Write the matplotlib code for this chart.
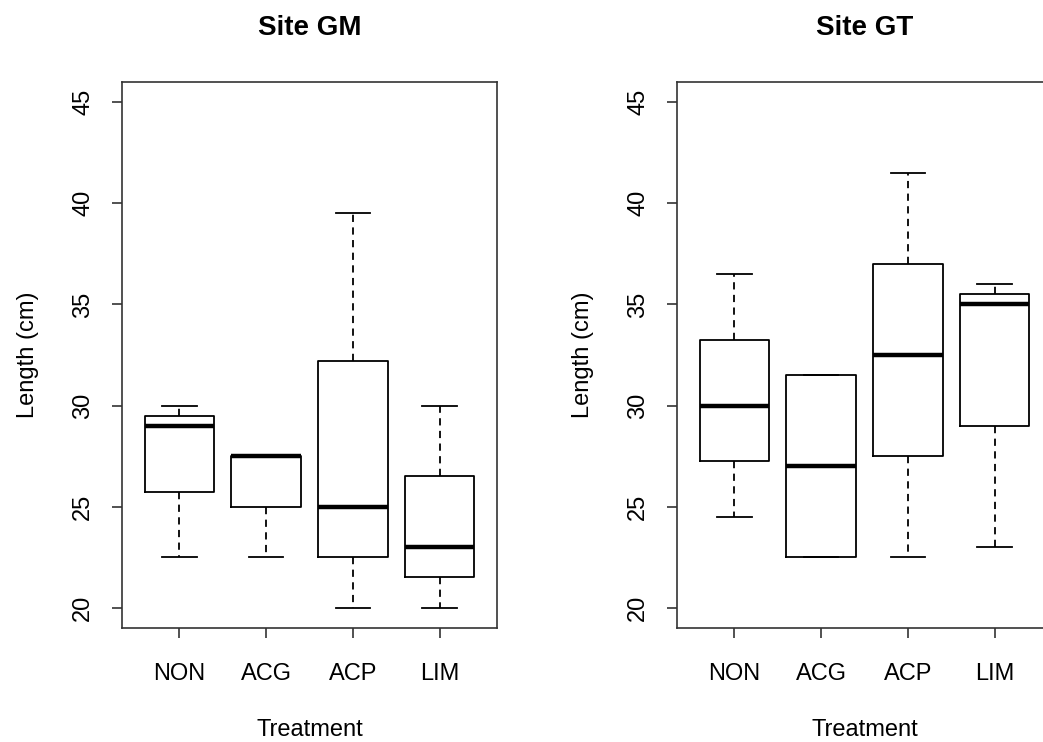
import matplotlib
matplotlib.use("Agg")
import matplotlib.pyplot as plt

plt.rcParams['font.family'] = ['Liberation Sans', 'DejaVu Sans']

treatments = ["NON", "ACG", "ACP", "LIM"]

# Site GM: whisker low, Q1, median, Q3, whisker high
gm_whislo = [22.5, 22.5, 20.0, 20.0]
gm_q1 = [25.75, 25.0, 22.5, 21.5]
gm_med = [29.0, 27.5, 25.0, 23.0]
gm_q3 = [29.5, 27.5, 32.2, 26.5]
gm_whishi = [30.0, 27.5, 39.5, 30.0]

# Site GT
gt_whislo = [24.5, 22.5, 22.5, 23.0]
gt_q1 = [27.25, 22.5, 27.5, 29.0]
gt_med = [30.0, 27.0, 32.5, 35.0]
gt_q3 = [33.25, 31.5, 37.0, 35.5]
gt_whishi = [36.5, 31.5, 41.5, 36.0]

yticks = [20, 25, 30, 35, 40, 45]

W, H = 1043, 742
fig = plt.figure(figsize=(W / 100, H / 100), dpi=100)


def make_ax(left_px, title, lo, q1, med, q3, hi):
    ax = fig.add_axes([left_px / W, 1 - 628 / H, 375 / W, (628 - 82) / H])
    stats = []
    for i in range(len(treatments)):
        stats.append(dict(whislo=lo[i], q1=q1[i], med=med[i], q3=q3[i],
                          whishi=hi[i], fliers=[], label=treatments[i]))
    ax.bxp(stats, positions=range(1, 5), widths=0.8, showfliers=False,
           boxprops=dict(color='black', linewidth=1.3),
           medianprops=dict(color='black', linewidth=3.2, solid_capstyle='butt'),
           whiskerprops=dict(color='black', linewidth=1.3, linestyle=(0, (4, 3))),
           capprops=dict(color='black', linewidth=1.3),
           capwidths=0.4)
    ax.set_xlim(0.34, 4.66)
    ax.set_ylim(19, 46)
    ax.set_yticks(yticks)
    ax.set_yticklabels([str(t) for t in yticks], rotation=90, va='center')
    ax.set_xticks(range(1, 5))
    ax.set_xticklabels(treatments)
    ax.tick_params(axis='both', labelsize=17, length=7, width=1.2, color='#333333')
    ax.tick_params(axis='y', pad=13)
    ax.tick_params(axis='x', pad=18)
    for s in ax.spines.values():
        s.set_linewidth(1.2)
        s.set_color('#333333')
    ax.set_title(title, fontsize=20, fontweight='bold', pad=34)
    ax.set_xlabel("Treatment", fontsize=17, labelpad=25)
    ax.set_ylabel("Length (cm)", fontsize=17, labelpad=24)
    return ax


make_ax(122, "Site GM", gm_whislo, gm_q1, gm_med, gm_q3, gm_whishi)
make_ax(677, "Site GT", gt_whislo, gt_q1, gt_med, gt_q3, gt_whishi)

fig.savefig("out.png", dpi=100, facecolor='white')
